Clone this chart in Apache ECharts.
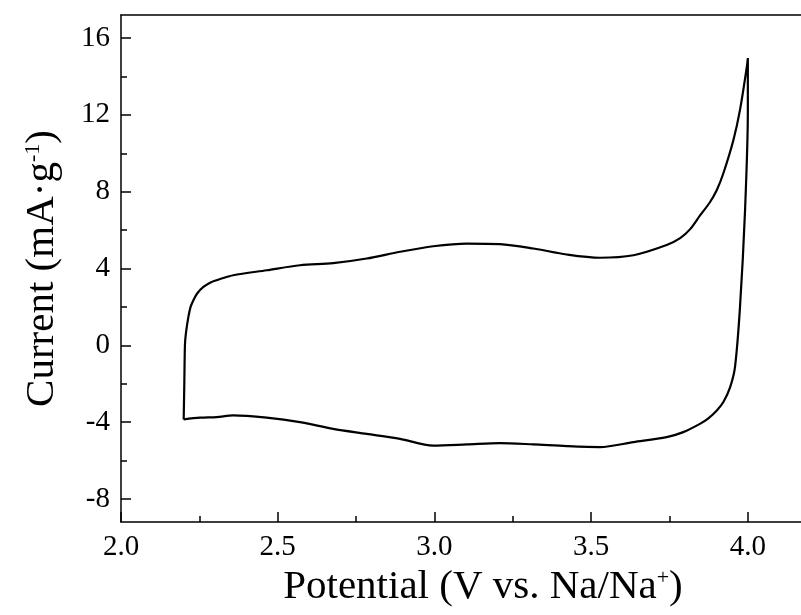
<!DOCTYPE html>
<html>
<head>
<meta charset="utf-8">
<script src="https://cdn.jsdelivr.net/npm/echarts@6/dist/echarts.min.js"></script>
<style>
  html, body { margin: 0; padding: 0; background: #fff; }
  #chart { width: 801px; height: 615px; }
</style>
</head>
<body>
<div id="chart"></div>
<script>
// CV loop: anodic sweep up then cathodic sweep back
const potential = [
  2.200, 2.202, 2.204, 2.207, 2.215, 2.222, 2.231, 2.243, 2.263, 2.289,
  2.321, 2.358, 2.465, 2.571, 2.677, 2.784, 2.890, 2.996, 3.103, 3.209,
  3.316, 3.422, 3.528, 3.635, 3.741, 3.784, 3.816, 3.847, 3.879, 3.901,
  3.922, 3.954, 3.975, 3.997, 4.000,
  4.000, 3.991, 3.975, 3.959, 3.943, 3.922, 3.901, 3.874, 3.847, 3.794,
  3.741, 3.635, 3.528, 3.422, 3.316, 3.209, 3.103, 2.996, 2.890, 2.784,
  2.677, 2.571, 2.465, 2.358, 2.305, 2.252, 2.200
];
const current = [
  -3.86, -2.00, 0.00, 0.61, 1.48, 2.00, 2.35, 2.70, 3.04, 3.30,
  3.48, 3.65, 3.91, 4.17, 4.28, 4.52, 4.87, 5.16, 5.30, 5.27,
  5.04, 4.73, 4.56, 4.69, 5.22, 5.58, 6.05, 6.75, 7.45, 8.09,
  8.96, 10.69, 12.26, 14.52, 14.96,
  12.20, 7.00, 2.00, -1.13, -2.20, -2.95, -3.39, -3.80, -4.09, -4.52,
  -4.78, -5.04, -5.30, -5.25, -5.16, -5.09, -5.16, -5.22, -4.87, -4.61,
  -4.35, -4.00, -3.77, -3.65, -3.74, -3.77, -3.86
];

const xMajorTicks = [2.0, 2.5, 3.0, 3.5, 4.0];
const xMinorTicks = [2.25, 2.75, 3.25, 3.75];
const yMajorTicks = [-8, -4, 0, 4, 8, 12, 16];
const yMinorTicks = [-6, -2, 2, 6, 10, 14];

const FONT = "Liberation Serif";
const X_MIN = 2.0, X_MAX = 4.31;
const Y_MIN = -9.2, Y_MAX = 17.2;

const black = { color: "#000", width: 1.5 };

const chart = echarts.init(document.getElementById("chart"));
chart.setOption({
  animation: false,
  backgroundColor: "#fff",
  grid: {
    left: 121, top: 15, right: -44, bottom: 93,
    containLabel: false, outerBoundsMode: "none"
  },
  xAxis: [
    {
      type: "value", position: "bottom", min: X_MIN, max: X_MAX,
      axisLine: { show: true, onZero: false, lineStyle: black },
      axisTick: { show: true, inside: true, length: 10, customValues: xMajorTicks, lineStyle: black },
      axisLabel: {
        customValues: xMajorTicks, formatter: (v) => v.toFixed(1),
        color: "#000", fontFamily: FONT, fontSize: 29, margin: 11
      },
      splitLine: { show: false },
      name: "Potential (V vs. Na/Na{sup|+})",
      nameLocation: "middle", nameGap: 33,
      nameTextStyle: {
        color: "#000", fontFamily: FONT, fontSize: 41,
        rich: { sup: { color: "#000", fontFamily: FONT, fontSize: 22, verticalAlign: "top" } }
      }
    },
    {
      // minor ticks
      type: "value", position: "bottom", min: X_MIN, max: X_MAX,
      axisLine: { show: false, onZero: false },
      axisTick: { show: true, inside: true, length: 6, customValues: xMinorTicks, lineStyle: black },
      axisLabel: { show: false },
      splitLine: { show: false }
    },
    {
      // top frame line
      type: "value", position: "top", min: X_MIN, max: X_MAX,
      axisLine: { show: true, onZero: false, lineStyle: black },
      axisTick: { show: false },
      axisLabel: { show: false },
      splitLine: { show: false }
    }
  ],
  yAxis: [
    {
      type: "value", position: "left", min: Y_MIN, max: Y_MAX,
      axisLine: { show: true, onZero: false, lineStyle: black },
      axisTick: { show: true, inside: true, length: 10, customValues: yMajorTicks, lineStyle: black },
      axisLabel: {
        customValues: yMajorTicks,
        color: "#000", fontFamily: FONT, fontSize: 29, margin: 11
      },
      splitLine: { show: false },
      name: "Current (mA·g{sup|-1})",
      nameLocation: "middle", nameGap: 58,
      nameTextStyle: {
        color: "#000", fontFamily: FONT, fontSize: 41,
        rich: { sup: { color: "#000", fontFamily: FONT, fontSize: 22, verticalAlign: "top" } }
      }
    },
    {
      type: "value", position: "left", min: Y_MIN, max: Y_MAX,
      axisLine: { show: false, onZero: false },
      axisTick: { show: true, inside: true, length: 6, customValues: yMinorTicks, lineStyle: black },
      axisLabel: { show: false },
      splitLine: { show: false }
    }
  ],
  series: [
    {
      type: "line",
      xAxisIndex: 0,
      yAxisIndex: 0,
      data: potential.map((v, i) => [v, current[i]]),
      showSymbol: false,
      smooth: 0.3,
      lineStyle: { color: "#000", width: 2.2 }
    }
  ]
});
</script>
</body>
</html>
